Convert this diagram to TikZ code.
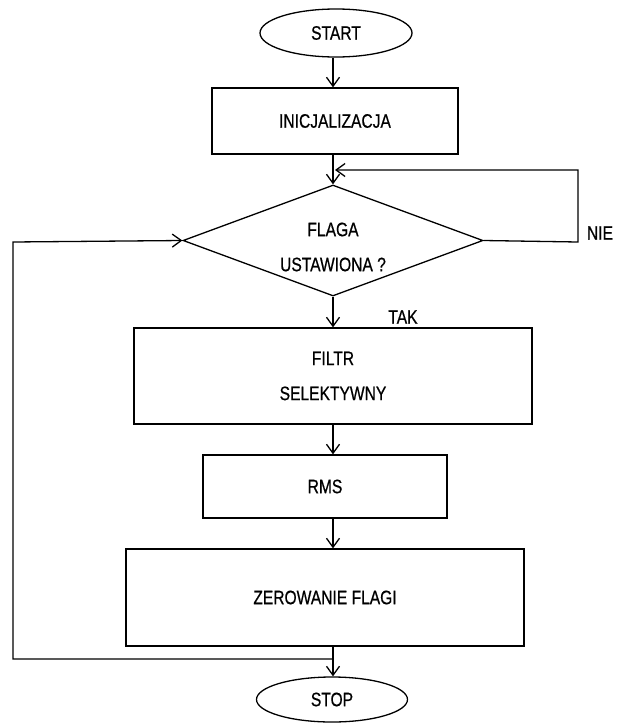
\documentclass[tikz,border=0pt]{standalone}
\usepackage{fontspec}
\setmainfont[FakeStretch=0.8,FakeBold=0.6]{Liberation Sans}
\usetikzlibrary{shapes.geometric,arrows.meta}
\begin{document}
\begin{tikzpicture}[x=1pt,y=-1pt,
  every node/.style={font=\fontsize{19.5pt}{35pt}\selectfont},
  line/.style={line width=1.3pt},
  arr/.style={line width=1.3pt,-{Straight Barb[length=9pt,width=13pt]}},
  box/.style={draw,line width=1.3pt,rectangle,inner sep=0pt},
  term/.style={draw,line width=1.3pt,ellipse,inner sep=0pt},
  dec/.style={draw,line width=1.3pt,diamond,inner sep=0pt,minimum width=300pt,minimum height=111pt},
  txt/.style={align=center,inner sep=0pt}]
\useasboundingbox (0,0) rectangle (617,723);
\fill[white] (0,0) rectangle (617,723);

\node[term,minimum width=152pt,minimum height=48pt] (start) at (336,33) {START};
\node[box,minimum width=246pt,minimum height=66pt] (init) at (335,121) {INICJALIZACJA};
\node[dec] (flag) at (333,240.5) {};
\node[txt] (flagtxt) at (333,247) {FLAGA\\USTAWIONA ?};
\node[box,minimum width=398pt,minimum height=96pt,align=center] (filtr) at (333,376) {FILTR\\SELEKTYWNY};
\node[box,minimum width=244pt,minimum height=63pt] (rms) at (325,486.5) {RMS};
\node[box,minimum width=398pt,minimum height=97pt] (zero) at (325,597.5) {ZEROWANIE FLAGI};
\node[term,minimum width=151pt,minimum height=45pt] (stop) at (332,699.5) {STOP};

\node[txt] (tak) at (403,317) {TAK};
\node[txt] (nie) at (600,233) {NIE};

\coordinate (ax) at (333,0);
\coordinate (n1) at (578,242);
\coordinate (n2) at (578,170);
\coordinate (n3) at (335,170);
\coordinate (j) at (333,659);
\coordinate (l1) at (13,659);
\coordinate (l2) at (13,242);

\draw[arr] (start.south -| ax) -- (init.north -| ax);
\draw[arr] (init.south -| ax) -- (flag.north);
\draw[arr] (flag.east) -- (n1) -- (n2) -- (n3);
\draw[arr] (flag.south) -- (filtr.north -| ax);
\draw[arr] (filtr.south -| ax) -- (rms.north -| ax);
\draw[arr] (rms.south -| ax) -- (zero.north -| ax);
\draw[arr] (zero.south -| ax) -- (stop.north -| ax);
\draw[arr] (j) -- (l1) -- (l2) -- (flag.west);
\end{tikzpicture}
\end{document}
